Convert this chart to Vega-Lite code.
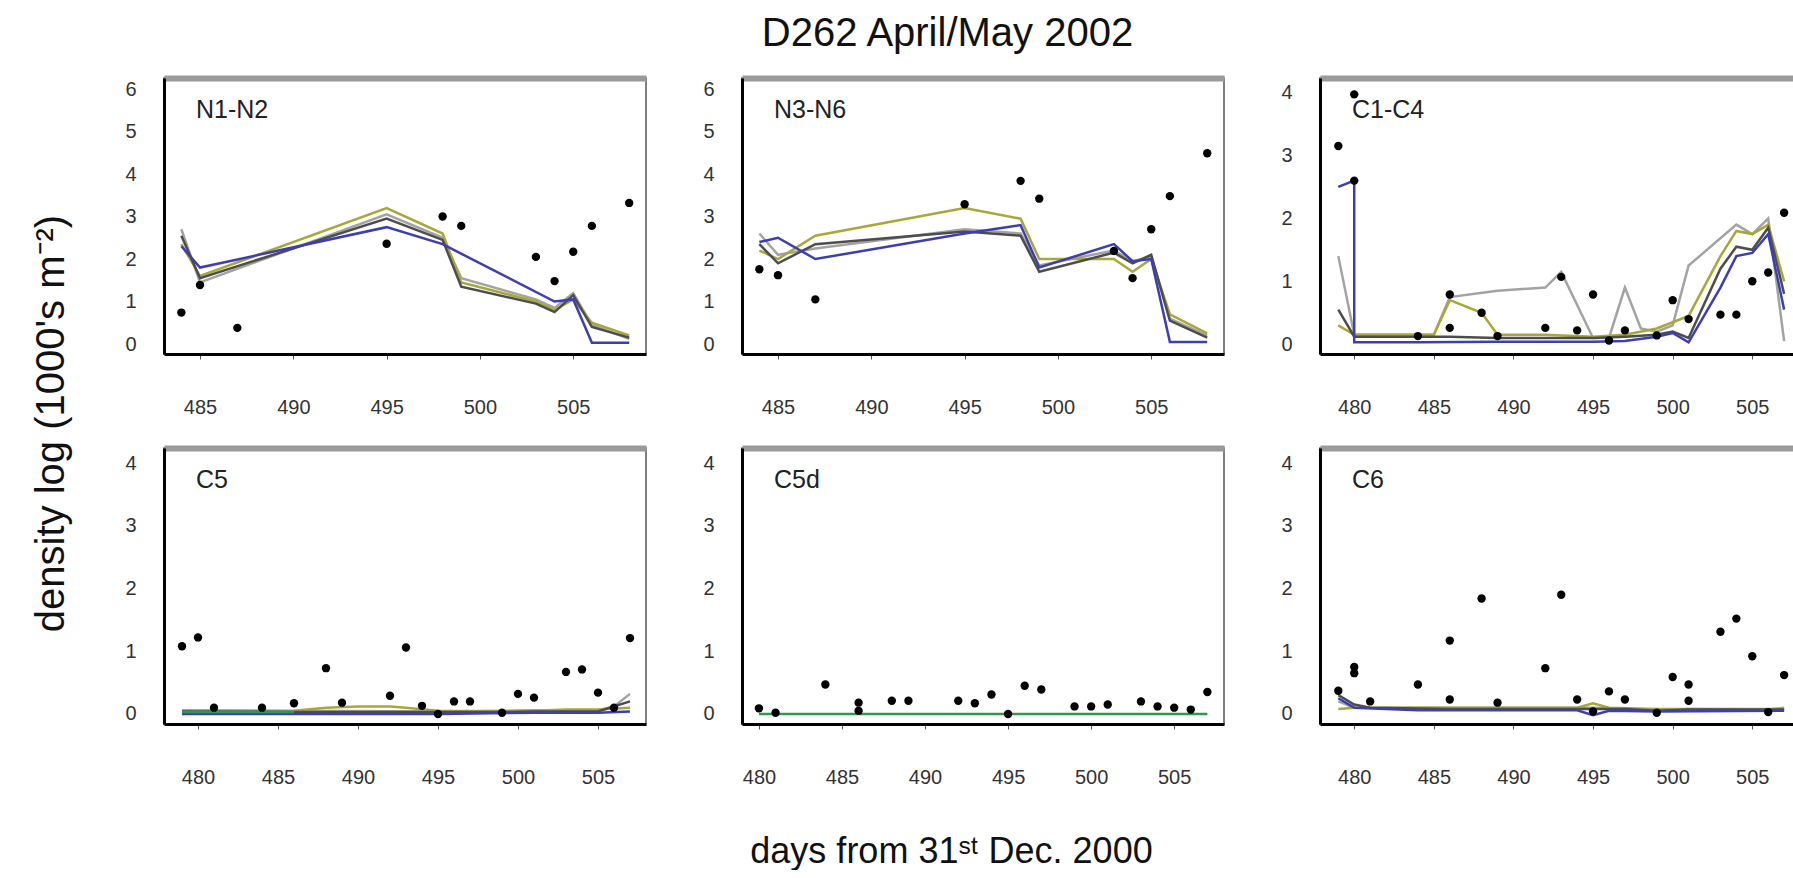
{
"$schema": "https://vega.github.io/schema/vega-lite/v6.json",
"background": "white",
"padding": {"left": 30, "top": 14, "right": 0, "bottom": 0},
"title": {"text": "D262 April/May 2002", "fontSize": 40, "fontWeight": "normal", "anchor": "middle", "baseline": "bottom", "offset": -17, "dx": 35, "color": "#111"},
"bounds": "flush",
"spacing": {"row": 94, "column": 96},
"columns": 3,
"concat": [
{
 "width": 482, "height": 276,
 "title": {"text": "N1-N2", "anchor": "start", "frame": "group", "dx": 32, "offset": -65, "baseline": "alphabetic", "fontSize": 25, "fontWeight": "normal", "color": "#222"},
 "resolve": {"axis": {"x": "independent"}},
 "layer": [
  {"data": {"name": "model"}, "transform": [{"filter": "datum.panel === 'N1-N2'"}],
   "mark": {"type": "line", "strokeWidth": 2.5},
   "encoding": {
    "x": {"field": "day", "type": "quantitative", "scale": {"domain": [483.07, 508.9], "nice": false, "zero": false},
      "axis": {"orient": "bottom", "title": null, "grid": false, "domainColor": "#000", "domainWidth": 3, "tickSize": 5, "tickColor": "#555", "labelFontSize": 20, "labelColor": "#333", "labelPadding": 38, "format": "d", "values": [485, 490, 495, 500, 505]}},
    "y": {"field": "value", "type": "quantitative", "scale": {"domain": [-0.235, 6.26], "nice": false, "zero": false},
      "axis": {"orient": "left", "grid": false, "domainColor": "#000", "domainWidth": 3, "ticks": false, "labelFontSize": 20, "labelColor": "#333", "labelPadding": 28, "format": "d", "values": [0, 1, 2, 3, 4, 5, 6],
        "title": "density log (1000's m⁻²)", "titleFontSize": 40, "titleFontWeight": "normal", "titleColor": "#111", "titleAngle": 270, "titleX": -113, "titleY": 345, "titleAlign": "center", "titleBaseline": "middle"}},
    "color": {"field": "series", "type": "nominal", "legend": null, "scale": {"domain": ["a_gray", "b_olive", "c_dark", "d_blue", "e_green"], "range": ["#a3a3a3", "#a8a838", "#4d4d4d", "#3d3db5", "#2e9a50"]}}
   }},
  {"data": {"name": "obs"}, "transform": [{"filter": "datum.panel === 'N1-N2'"}],
   "mark": {"type": "point", "filled": true, "size": 70, "color": "#000", "opacity": 1},
   "encoding": {
    "x": {"field": "day", "type": "quantitative", "axis": {"orient": "top", "title": null, "grid": false, "domainColor": "#9a9a9a", "domainWidth": 6, "ticks": false, "labels": false}},
    "y": {"field": "value", "type": "quantitative"}
   }}
 ]
},
{
 "width": 482, "height": 276,
 "title": {"text": "N3-N6", "anchor": "start", "frame": "group", "dx": 32, "offset": -65, "baseline": "alphabetic", "fontSize": 25, "fontWeight": "normal", "color": "#222"},
 "resolve": {"axis": {"x": "independent"}},
 "layer": [
  {"data": {"name": "model"}, "transform": [{"filter": "datum.panel === 'N3-N6'"}],
   "mark": {"type": "line", "strokeWidth": 2.5},
   "encoding": {
    "x": {"field": "day", "type": "quantitative", "scale": {"domain": [483.07, 508.9], "nice": false, "zero": false},
      "axis": {"orient": "bottom", "title": null, "grid": false, "domainColor": "#000", "domainWidth": 3, "tickSize": 5, "tickColor": "#555", "labelFontSize": 20, "labelColor": "#333", "labelPadding": 38, "format": "d", "values": [485, 490, 495, 500, 505]}},
    "y": {"field": "value", "type": "quantitative", "scale": {"domain": [-0.235, 6.26], "nice": false, "zero": false},
      "axis": {"orient": "left", "grid": false, "domainColor": "#000", "domainWidth": 3, "ticks": false, "labelFontSize": 20, "labelColor": "#333", "labelPadding": 28, "format": "d", "values": [0, 1, 2, 3, 4, 5, 6], "title": null}},
    "color": {"field": "series", "type": "nominal", "legend": null, "scale": {"domain": ["a_gray", "b_olive", "c_dark", "d_blue", "e_green"], "range": ["#a3a3a3", "#a8a838", "#4d4d4d", "#3d3db5", "#2e9a50"]}}
   }},
  {"data": {"name": "obs"}, "transform": [{"filter": "datum.panel === 'N3-N6'"}],
   "mark": {"type": "point", "filled": true, "size": 70, "color": "#000", "opacity": 1},
   "encoding": {
    "x": {"field": "day", "type": "quantitative", "axis": {"orient": "top", "title": null, "grid": false, "domainColor": "#9a9a9a", "domainWidth": 6, "ticks": false, "labels": false}},
    "y": {"field": "value", "type": "quantitative"}
   }}
 ]
},
{
 "width": 474, "height": 276,
 "title": {"text": "C1-C4", "anchor": "start", "frame": "group", "dx": 32, "offset": -65, "baseline": "alphabetic", "fontSize": 25, "fontWeight": "normal", "color": "#222"},
 "resolve": {"axis": {"x": "independent"}},
 "layer": [
  {"data": {"name": "model"}, "transform": [{"filter": "datum.panel === 'C1-C4'"}],
   "mark": {"type": "line", "strokeWidth": 2.5},
   "encoding": {
    "x": {"field": "day", "type": "quantitative", "sort": null, "scale": {"domain": [477.85, 507.62], "nice": false, "zero": false},
      "axis": {"orient": "bottom", "title": null, "grid": false, "domainColor": "#000", "domainWidth": 3, "tickSize": 5, "tickColor": "#555", "labelFontSize": 20, "labelColor": "#333", "labelPadding": 38, "format": "d", "values": [480, 485, 490, 495, 500, 505]}},
    "y": {"field": "value", "type": "quantitative", "scale": {"domain": [-0.155, 4.23], "nice": false, "zero": false},
      "axis": {"orient": "left", "grid": false, "domainColor": "#000", "domainWidth": 3, "ticks": false, "labelFontSize": 20, "labelColor": "#333", "labelPadding": 28, "format": "d", "values": [0, 1, 2, 3, 4], "title": null}},
    "color": {"field": "series", "type": "nominal", "legend": null, "scale": {"domain": ["a_gray", "b_olive", "c_dark", "d_blue", "e_green"], "range": ["#a3a3a3", "#a8a838", "#4d4d4d", "#3d3db5", "#2e9a50"]}}
   }},
  {"data": {"name": "obs"}, "transform": [{"filter": "datum.panel === 'C1-C4'"}],
   "mark": {"type": "point", "filled": true, "size": 70, "color": "#000", "opacity": 1},
   "encoding": {
    "x": {"field": "day", "type": "quantitative", "axis": {"orient": "top", "title": null, "grid": false, "domainColor": "#9a9a9a", "domainWidth": 6, "ticks": false, "labels": false}},
    "y": {"field": "value", "type": "quantitative"}
   }}
 ]
},
{
 "width": 482, "height": 276,
 "title": {"text": "C5", "anchor": "start", "frame": "group", "dx": 32, "offset": -65, "baseline": "alphabetic", "fontSize": 25, "fontWeight": "normal", "color": "#222"},
 "resolve": {"axis": {"x": "independent"}},
 "layer": [
  {"data": {"name": "model"}, "transform": [{"filter": "datum.panel === 'C5'"}],
   "mark": {"type": "line", "strokeWidth": 2.5},
   "encoding": {
    "x": {"field": "day", "type": "quantitative", "scale": {"domain": [477.875, 508.0], "nice": false, "zero": false},
      "axis": {"orient": "bottom", "title": null, "grid": false, "domainColor": "#000", "domainWidth": 3, "tickSize": 5, "tickColor": "#555", "labelFontSize": 20, "labelColor": "#333", "labelPadding": 38, "format": "d", "values": [480, 485, 490, 495, 500, 505]}},
    "y": {"field": "value", "type": "quantitative", "scale": {"domain": [-0.16, 4.24], "nice": false, "zero": false},
      "axis": {"orient": "left", "grid": false, "domainColor": "#000", "domainWidth": 3, "ticks": false, "labelFontSize": 20, "labelColor": "#333", "labelPadding": 28, "format": "d", "values": [0, 1, 2, 3, 4], "title": null}},
    "color": {"field": "series", "type": "nominal", "legend": null, "scale": {"domain": ["a_gray", "b_olive", "c_dark", "d_blue", "e_green"], "range": ["#a3a3a3", "#a8a838", "#4d4d4d", "#3d3db5", "#2e9a50"]}}
   }},
  {"data": {"name": "obs"}, "transform": [{"filter": "datum.panel === 'C5'"}],
   "mark": {"type": "point", "filled": true, "size": 70, "color": "#000", "opacity": 1},
   "encoding": {
    "x": {"field": "day", "type": "quantitative", "axis": {"orient": "top", "title": null, "grid": false, "domainColor": "#9a9a9a", "domainWidth": 6, "ticks": false, "labels": false}},
    "y": {"field": "value", "type": "quantitative"}
   }}
 ]
},
{
 "width": 482, "height": 276,
 "title": {"text": "C5d", "anchor": "start", "frame": "group", "dx": 32, "offset": -65, "baseline": "alphabetic", "fontSize": 25, "fontWeight": "normal", "color": "#222"},
 "resolve": {"axis": {"x": "independent"}},
 "layer": [
  {"data": {"name": "model"}, "transform": [{"filter": "datum.panel === 'C5d'"}],
   "mark": {"type": "line", "strokeWidth": 2.5},
   "encoding": {
    "x": {"field": "day", "type": "quantitative", "scale": {"domain": [478.98, 508.0], "nice": false, "zero": false},
      "axis": {"orient": "bottom", "grid": false, "domainColor": "#000", "domainWidth": 3, "tickSize": 5, "tickColor": "#555", "labelFontSize": 20, "labelColor": "#333", "labelPadding": 38, "format": "d", "values": [480, 485, 490, 495, 500, 505],
        "title": "days from 31ˢᵗ Dec. 2000", "titleFontSize": 36, "titleFontWeight": "normal", "titleColor": "#111", "titleX": 209, "titleY": 127, "titleAlign": "center", "titleBaseline": "middle"}},
    "y": {"field": "value", "type": "quantitative", "scale": {"domain": [-0.16, 4.24], "nice": false, "zero": false},
      "axis": {"orient": "left", "grid": false, "domainColor": "#000", "domainWidth": 3, "ticks": false, "labelFontSize": 20, "labelColor": "#333", "labelPadding": 28, "format": "d", "values": [0, 1, 2, 3, 4], "title": null}},
    "color": {"field": "series", "type": "nominal", "legend": null, "scale": {"domain": ["a_gray", "b_olive", "c_dark", "d_blue", "e_green"], "range": ["#a3a3a3", "#a8a838", "#4d4d4d", "#3d3db5", "#2e9a50"]}}
   }},
  {"data": {"name": "obs"}, "transform": [{"filter": "datum.panel === 'C5d'"}],
   "mark": {"type": "point", "filled": true, "size": 70, "color": "#000", "opacity": 1},
   "encoding": {
    "x": {"field": "day", "type": "quantitative", "axis": {"orient": "top", "title": null, "grid": false, "domainColor": "#9a9a9a", "domainWidth": 6, "ticks": false, "labels": false}},
    "y": {"field": "value", "type": "quantitative"}
   }}
 ]
},
{
 "width": 474, "height": 276,
 "title": {"text": "C6", "anchor": "start", "frame": "group", "dx": 32, "offset": -65, "baseline": "alphabetic", "fontSize": 25, "fontWeight": "normal", "color": "#222"},
 "resolve": {"axis": {"x": "independent"}},
 "layer": [
  {"data": {"name": "model"}, "transform": [{"filter": "datum.panel === 'C6'"}],
   "mark": {"type": "line", "strokeWidth": 2.5},
   "encoding": {
    "x": {"field": "day", "type": "quantitative", "scale": {"domain": [477.85, 507.62], "nice": false, "zero": false},
      "axis": {"orient": "bottom", "title": null, "grid": false, "domainColor": "#000", "domainWidth": 3, "tickSize": 5, "tickColor": "#555", "labelFontSize": 20, "labelColor": "#333", "labelPadding": 38, "format": "d", "values": [480, 485, 490, 495, 500, 505]}},
    "y": {"field": "value", "type": "quantitative", "scale": {"domain": [-0.16, 4.24], "nice": false, "zero": false},
      "axis": {"orient": "left", "grid": false, "domainColor": "#000", "domainWidth": 3, "ticks": false, "labelFontSize": 20, "labelColor": "#333", "labelPadding": 28, "format": "d", "values": [0, 1, 2, 3, 4], "title": null}},
    "color": {"field": "series", "type": "nominal", "legend": null, "scale": {"domain": ["a_gray", "b_olive", "c_dark", "d_blue", "e_green"], "range": ["#a3a3a3", "#a8a838", "#4d4d4d", "#3d3db5", "#2e9a50"]}}
   }},
  {"data": {"name": "obs"}, "transform": [{"filter": "datum.panel === 'C6'"}],
   "mark": {"type": "point", "filled": true, "size": 70, "color": "#000", "opacity": 1},
   "encoding": {
    "x": {"field": "day", "type": "quantitative", "axis": {"orient": "top", "title": null, "grid": false, "domainColor": "#9a9a9a", "domainWidth": 6, "ticks": false, "labels": false}},
    "y": {"field": "value", "type": "quantitative"}
   }}
 ]
}
],
"config": {
 "font": "Liberation Sans",
 "view": {"stroke": "#555", "strokeWidth": 1.5},
 "axis": {"labelFont": "Liberation Sans", "titleFont": "Liberation Sans"}
},
"datasets": {
"obs": [
{"panel":"N1-N2","day":484,"value":0.74},{"panel":"N1-N2","day":485,"value":1.39},{"panel":"N1-N2","day":487,"value":0.38},{"panel":"N1-N2","day":495,"value":2.36},{"panel":"N1-N2","day":498,"value":3.0},{"panel":"N1-N2","day":499,"value":2.78},{"panel":"N1-N2","day":503,"value":2.05},{"panel":"N1-N2","day":504,"value":1.48},{"panel":"N1-N2","day":505,"value":2.17},{"panel":"N1-N2","day":506,"value":2.78},{"panel":"N1-N2","day":508,"value":3.32},
{"panel":"N3-N6","day":484,"value":1.76},{"panel":"N3-N6","day":485,"value":1.62},{"panel":"N3-N6","day":487,"value":1.05},{"panel":"N3-N6","day":495,"value":3.29},{"panel":"N3-N6","day":498,"value":3.84},{"panel":"N3-N6","day":499,"value":3.42},{"panel":"N3-N6","day":503,"value":2.19},{"panel":"N3-N6","day":504,"value":1.55},{"panel":"N3-N6","day":505,"value":2.7},{"panel":"N3-N6","day":506,"value":3.48},{"panel":"N3-N6","day":508,"value":4.49},
{"panel":"C1-C4","day":479,"value":3.15},{"panel":"C1-C4","day":480,"value":3.97},{"panel":"C1-C4","day":480,"value":2.6},{"panel":"C1-C4","day":484,"value":0.13},{"panel":"C1-C4","day":486,"value":0.79},{"panel":"C1-C4","day":486,"value":0.26},{"panel":"C1-C4","day":488,"value":0.5},{"panel":"C1-C4","day":489,"value":0.13},{"panel":"C1-C4","day":492,"value":0.26},{"panel":"C1-C4","day":493,"value":1.07},{"panel":"C1-C4","day":494,"value":0.22},{"panel":"C1-C4","day":495,"value":0.79},{"panel":"C1-C4","day":496,"value":0.06},{"panel":"C1-C4","day":497,"value":0.22},{"panel":"C1-C4","day":499,"value":0.14},{"panel":"C1-C4","day":500,"value":0.7},{"panel":"C1-C4","day":501,"value":0.4},{"panel":"C1-C4","day":503,"value":0.47},{"panel":"C1-C4","day":504,"value":0.47},{"panel":"C1-C4","day":505,"value":1.0},{"panel":"C1-C4","day":506,"value":1.14},{"panel":"C1-C4","day":507,"value":2.09},
{"panel":"C5","day":479,"value":1.08},{"panel":"C5","day":480,"value":1.22},{"panel":"C5","day":481,"value":0.1},{"panel":"C5","day":484,"value":0.1},{"panel":"C5","day":486,"value":0.17},{"panel":"C5","day":488,"value":0.73},{"panel":"C5","day":489,"value":0.18},{"panel":"C5","day":492,"value":0.29},{"panel":"C5","day":493,"value":1.06},{"panel":"C5","day":494,"value":0.13},{"panel":"C5","day":495,"value":0.0},{"panel":"C5","day":496,"value":0.2},{"panel":"C5","day":497,"value":0.2},{"panel":"C5","day":499,"value":0.02},{"panel":"C5","day":500,"value":0.32},{"panel":"C5","day":501,"value":0.26},{"panel":"C5","day":503,"value":0.67},{"panel":"C5","day":504,"value":0.71},{"panel":"C5","day":505,"value":0.34},{"panel":"C5","day":506,"value":0.1},{"panel":"C5","day":507,"value":1.21},
{"panel":"C5d","day":480,"value":0.09},{"panel":"C5d","day":481,"value":0.02},{"panel":"C5d","day":484,"value":0.47},{"panel":"C5d","day":486,"value":0.18},{"panel":"C5d","day":486,"value":0.05},{"panel":"C5d","day":488,"value":0.21},{"panel":"C5d","day":489,"value":0.21},{"panel":"C5d","day":492,"value":0.21},{"panel":"C5d","day":493,"value":0.17},{"panel":"C5d","day":494,"value":0.31},{"panel":"C5d","day":495,"value":0.0},{"panel":"C5d","day":496,"value":0.45},{"panel":"C5d","day":497,"value":0.39},{"panel":"C5d","day":499,"value":0.12},{"panel":"C5d","day":500,"value":0.12},{"panel":"C5d","day":501,"value":0.15},{"panel":"C5d","day":503,"value":0.2},{"panel":"C5d","day":504,"value":0.12},{"panel":"C5d","day":505,"value":0.1},{"panel":"C5d","day":506,"value":0.07},{"panel":"C5d","day":507,"value":0.35},
{"panel":"C6","day":479,"value":0.37},{"panel":"C6","day":480,"value":0.65},{"panel":"C6","day":480,"value":0.75},{"panel":"C6","day":481,"value":0.2},{"panel":"C6","day":484,"value":0.47},{"panel":"C6","day":486,"value":1.17},{"panel":"C6","day":486,"value":0.23},{"panel":"C6","day":488,"value":1.84},{"panel":"C6","day":489,"value":0.18},{"panel":"C6","day":492,"value":0.73},{"panel":"C6","day":493,"value":1.9},{"panel":"C6","day":494,"value":0.23},{"panel":"C6","day":495,"value":0.04},{"panel":"C6","day":496,"value":0.36},{"panel":"C6","day":497,"value":0.23},{"panel":"C6","day":499,"value":0.02},{"panel":"C6","day":500,"value":0.59},{"panel":"C6","day":501,"value":0.47},{"panel":"C6","day":501,"value":0.21},{"panel":"C6","day":503,"value":1.31},{"panel":"C6","day":504,"value":1.52},{"panel":"C6","day":505,"value":0.92},{"panel":"C6","day":506,"value":0.03},{"panel":"C6","day":507,"value":0.62}
],
"model": [
{"panel":"N1-N2","series":"a_gray","day":484,"value":2.7},{"panel":"N1-N2","series":"a_gray","day":485,"value":1.45},{"panel":"N1-N2","series":"a_gray","day":495,"value":3.05},{"panel":"N1-N2","series":"a_gray","day":498,"value":2.5},{"panel":"N1-N2","series":"a_gray","day":499,"value":1.55},{"panel":"N1-N2","series":"a_gray","day":503,"value":1.05},{"panel":"N1-N2","series":"a_gray","day":504,"value":0.85},{"panel":"N1-N2","series":"a_gray","day":505,"value":1.2},{"panel":"N1-N2","series":"a_gray","day":506,"value":0.45},{"panel":"N1-N2","series":"a_gray","day":508,"value":0.12},
{"panel":"N1-N2","series":"b_olive","day":484,"value":2.35},{"panel":"N1-N2","series":"b_olive","day":485,"value":1.6},{"panel":"N1-N2","series":"b_olive","day":495,"value":3.2},{"panel":"N1-N2","series":"b_olive","day":498,"value":2.6},{"panel":"N1-N2","series":"b_olive","day":499,"value":1.45},{"panel":"N1-N2","series":"b_olive","day":503,"value":1.0},{"panel":"N1-N2","series":"b_olive","day":504,"value":0.8},{"panel":"N1-N2","series":"b_olive","day":505,"value":1.05},{"panel":"N1-N2","series":"b_olive","day":506,"value":0.5},{"panel":"N1-N2","series":"b_olive","day":508,"value":0.2},
{"panel":"N1-N2","series":"c_dark","day":484,"value":2.55},{"panel":"N1-N2","series":"c_dark","day":485,"value":1.55},{"panel":"N1-N2","series":"c_dark","day":495,"value":2.95},{"panel":"N1-N2","series":"c_dark","day":498,"value":2.45},{"panel":"N1-N2","series":"c_dark","day":499,"value":1.35},{"panel":"N1-N2","series":"c_dark","day":503,"value":0.95},{"panel":"N1-N2","series":"c_dark","day":504,"value":0.75},{"panel":"N1-N2","series":"c_dark","day":505,"value":1.15},{"panel":"N1-N2","series":"c_dark","day":506,"value":0.4},{"panel":"N1-N2","series":"c_dark","day":508,"value":0.15},
{"panel":"N1-N2","series":"d_blue","day":484,"value":2.3},{"panel":"N1-N2","series":"d_blue","day":485,"value":1.8},{"panel":"N1-N2","series":"d_blue","day":495,"value":2.75},{"panel":"N1-N2","series":"d_blue","day":498,"value":2.35},{"panel":"N1-N2","series":"d_blue","day":504,"value":1.0},{"panel":"N1-N2","series":"d_blue","day":505,"value":1.05},{"panel":"N1-N2","series":"d_blue","day":506,"value":0.03},{"panel":"N1-N2","series":"d_blue","day":508,"value":0.03},
{"panel":"N3-N6","series":"a_gray","day":484,"value":2.6},{"panel":"N3-N6","series":"a_gray","day":485,"value":2.1},{"panel":"N3-N6","series":"a_gray","day":487,"value":2.25},{"panel":"N3-N6","series":"a_gray","day":495,"value":2.7},{"panel":"N3-N6","series":"a_gray","day":498,"value":2.6},{"panel":"N3-N6","series":"a_gray","day":499,"value":1.85},{"panel":"N3-N6","series":"a_gray","day":503,"value":2.2},{"panel":"N3-N6","series":"a_gray","day":504,"value":1.95},{"panel":"N3-N6","series":"a_gray","day":505,"value":2.05},{"panel":"N3-N6","series":"a_gray","day":506,"value":0.6},{"panel":"N3-N6","series":"a_gray","day":508,"value":0.2},
{"panel":"N3-N6","series":"b_olive","day":484,"value":2.2},{"panel":"N3-N6","series":"b_olive","day":485,"value":2.0},{"panel":"N3-N6","series":"b_olive","day":487,"value":2.55},{"panel":"N3-N6","series":"b_olive","day":495,"value":3.2},{"panel":"N3-N6","series":"b_olive","day":498,"value":2.95},{"panel":"N3-N6","series":"b_olive","day":499,"value":2.0},{"panel":"N3-N6","series":"b_olive","day":503,"value":2.0},{"panel":"N3-N6","series":"b_olive","day":504,"value":1.7},{"panel":"N3-N6","series":"b_olive","day":505,"value":2.0},{"panel":"N3-N6","series":"b_olive","day":506,"value":0.7},{"panel":"N3-N6","series":"b_olive","day":508,"value":0.25},
{"panel":"N3-N6","series":"c_dark","day":484,"value":2.35},{"panel":"N3-N6","series":"c_dark","day":485,"value":1.9},{"panel":"N3-N6","series":"c_dark","day":487,"value":2.35},{"panel":"N3-N6","series":"c_dark","day":495,"value":2.65},{"panel":"N3-N6","series":"c_dark","day":498,"value":2.55},{"panel":"N3-N6","series":"c_dark","day":499,"value":1.7},{"panel":"N3-N6","series":"c_dark","day":503,"value":2.15},{"panel":"N3-N6","series":"c_dark","day":504,"value":1.9},{"panel":"N3-N6","series":"c_dark","day":505,"value":2.1},{"panel":"N3-N6","series":"c_dark","day":506,"value":0.55},{"panel":"N3-N6","series":"c_dark","day":508,"value":0.15},
{"panel":"N3-N6","series":"d_blue","day":484,"value":2.4},{"panel":"N3-N6","series":"d_blue","day":485,"value":2.5},{"panel":"N3-N6","series":"d_blue","day":487,"value":2.0},{"panel":"N3-N6","series":"d_blue","day":495,"value":2.6},{"panel":"N3-N6","series":"d_blue","day":498,"value":2.8},{"panel":"N3-N6","series":"d_blue","day":499,"value":1.8},{"panel":"N3-N6","series":"d_blue","day":503,"value":2.35},{"panel":"N3-N6","series":"d_blue","day":504,"value":1.95},{"panel":"N3-N6","series":"d_blue","day":505,"value":2.0},{"panel":"N3-N6","series":"d_blue","day":506,"value":0.05},{"panel":"N3-N6","series":"d_blue","day":508,"value":0.05},
{"panel":"C1-C4","series":"a_gray","day":479,"value":1.4},{"panel":"C1-C4","series":"a_gray","day":480,"value":0.15},{"panel":"C1-C4","series":"a_gray","day":484,"value":0.15},{"panel":"C1-C4","series":"a_gray","day":485,"value":0.15},{"panel":"C1-C4","series":"a_gray","day":486,"value":0.75},{"panel":"C1-C4","series":"a_gray","day":489,"value":0.85},{"panel":"C1-C4","series":"a_gray","day":492,"value":0.9},{"panel":"C1-C4","series":"a_gray","day":493,"value":1.15},{"panel":"C1-C4","series":"a_gray","day":495,"value":0.1},{"panel":"C1-C4","series":"a_gray","day":496,"value":0.1},{"panel":"C1-C4","series":"a_gray","day":497,"value":0.9},{"panel":"C1-C4","series":"a_gray","day":498,"value":0.25},{"panel":"C1-C4","series":"a_gray","day":499,"value":0.2},{"panel":"C1-C4","series":"a_gray","day":500,"value":0.3},{"panel":"C1-C4","series":"a_gray","day":501,"value":1.25},{"panel":"C1-C4","series":"a_gray","day":504,"value":1.9},{"panel":"C1-C4","series":"a_gray","day":505,"value":1.75},{"panel":"C1-C4","series":"a_gray","day":506,"value":2.0},{"panel":"C1-C4","series":"a_gray","day":507,"value":0.05},
{"panel":"C1-C4","series":"b_olive","day":479,"value":0.3},{"panel":"C1-C4","series":"b_olive","day":480,"value":0.15},{"panel":"C1-C4","series":"b_olive","day":484,"value":0.15},{"panel":"C1-C4","series":"b_olive","day":485,"value":0.15},{"panel":"C1-C4","series":"b_olive","day":486,"value":0.7},{"panel":"C1-C4","series":"b_olive","day":488,"value":0.5},{"panel":"C1-C4","series":"b_olive","day":489,"value":0.15},{"panel":"C1-C4","series":"b_olive","day":492,"value":0.15},{"panel":"C1-C4","series":"b_olive","day":495,"value":0.12},{"panel":"C1-C4","series":"b_olive","day":497,"value":0.15},{"panel":"C1-C4","series":"b_olive","day":499,"value":0.25},{"panel":"C1-C4","series":"b_olive","day":500,"value":0.35},{"panel":"C1-C4","series":"b_olive","day":501,"value":0.45},{"panel":"C1-C4","series":"b_olive","day":503,"value":1.4},{"panel":"C1-C4","series":"b_olive","day":504,"value":1.8},{"panel":"C1-C4","series":"b_olive","day":505,"value":1.75},{"panel":"C1-C4","series":"b_olive","day":506,"value":1.9},{"panel":"C1-C4","series":"b_olive","day":507,"value":1.0},
{"panel":"C1-C4","series":"c_dark","day":479,"value":0.55},{"panel":"C1-C4","series":"c_dark","day":480,"value":0.12},{"panel":"C1-C4","series":"c_dark","day":484,"value":0.12},{"panel":"C1-C4","series":"c_dark","day":486,"value":0.12},{"panel":"C1-C4","series":"c_dark","day":489,"value":0.1},{"panel":"C1-C4","series":"c_dark","day":492,"value":0.1},{"panel":"C1-C4","series":"c_dark","day":495,"value":0.1},{"panel":"C1-C4","series":"c_dark","day":497,"value":0.12},{"panel":"C1-C4","series":"c_dark","day":499,"value":0.15},{"panel":"C1-C4","series":"c_dark","day":500,"value":0.2},{"panel":"C1-C4","series":"c_dark","day":501,"value":0.1},{"panel":"C1-C4","series":"c_dark","day":503,"value":1.2},{"panel":"C1-C4","series":"c_dark","day":504,"value":1.55},{"panel":"C1-C4","series":"c_dark","day":505,"value":1.5},{"panel":"C1-C4","series":"c_dark","day":506,"value":1.85},{"panel":"C1-C4","series":"c_dark","day":507,"value":0.8},
{"panel":"C1-C4","series":"d_blue","day":479,"value":2.5},{"panel":"C1-C4","series":"d_blue","day":480,"value":2.6},{"panel":"C1-C4","series":"d_blue","day":480,"value":0.03},{"panel":"C1-C4","series":"d_blue","day":484,"value":0.03},{"panel":"C1-C4","series":"d_blue","day":489,"value":0.04},{"panel":"C1-C4","series":"d_blue","day":495,"value":0.04},{"panel":"C1-C4","series":"d_blue","day":497,"value":0.05},{"panel":"C1-C4","series":"d_blue","day":499,"value":0.12},{"panel":"C1-C4","series":"d_blue","day":500,"value":0.18},{"panel":"C1-C4","series":"d_blue","day":501,"value":0.03},{"panel":"C1-C4","series":"d_blue","day":503,"value":0.9},{"panel":"C1-C4","series":"d_blue","day":504,"value":1.4},{"panel":"C1-C4","series":"d_blue","day":505,"value":1.45},{"panel":"C1-C4","series":"d_blue","day":506,"value":1.75},{"panel":"C1-C4","series":"d_blue","day":507,"value":0.55},
{"panel":"C5","series":"a_gray","day":479,"value":0.06},{"panel":"C5","series":"a_gray","day":486,"value":0.05},{"panel":"C5","series":"a_gray","day":495,"value":0.04},{"panel":"C5","series":"a_gray","day":499,"value":0.05},{"panel":"C5","series":"a_gray","day":501,"value":0.06},{"panel":"C5","series":"a_gray","day":505,"value":0.06},{"panel":"C5","series":"a_gray","day":506,"value":0.12},{"panel":"C5","series":"a_gray","day":507,"value":0.32},
{"panel":"C5","series":"b_olive","day":486,"value":0.05},{"panel":"C5","series":"b_olive","day":488,"value":0.1},{"panel":"C5","series":"b_olive","day":490,"value":0.12},{"panel":"C5","series":"b_olive","day":492,"value":0.12},{"panel":"C5","series":"b_olive","day":493,"value":0.1},{"panel":"C5","series":"b_olive","day":495,"value":0.05},{"panel":"C5","series":"b_olive","day":499,"value":0.04},{"panel":"C5","series":"b_olive","day":501,"value":0.05},{"panel":"C5","series":"b_olive","day":503,"value":0.07},{"panel":"C5","series":"b_olive","day":505,"value":0.07},{"panel":"C5","series":"b_olive","day":507,"value":0.1},
{"panel":"C5","series":"c_dark","day":479,"value":0.04},{"panel":"C5","series":"c_dark","day":486,"value":0.03},{"panel":"C5","series":"c_dark","day":495,"value":0.03},{"panel":"C5","series":"c_dark","day":499,"value":0.03},{"panel":"C5","series":"c_dark","day":501,"value":0.04},{"panel":"C5","series":"c_dark","day":505,"value":0.04},{"panel":"C5","series":"c_dark","day":507,"value":0.2},
{"panel":"C5","series":"d_blue","day":479,"value":0.0},{"panel":"C5","series":"d_blue","day":486,"value":0.0},{"panel":"C5","series":"d_blue","day":495,"value":0.0},{"panel":"C5","series":"d_blue","day":501,"value":0.02},{"panel":"C5","series":"d_blue","day":505,"value":0.02},{"panel":"C5","series":"d_blue","day":507,"value":0.04},
{"panel":"C5","series":"e_green","day":479,"value":0.03},{"panel":"C5","series":"e_green","day":481,"value":0.03},{"panel":"C5","series":"e_green","day":484,"value":0.03},{"panel":"C5","series":"e_green","day":486,"value":0.03},
{"panel":"C5d","series":"e_green","day":480,"value":0.0},{"panel":"C5d","series":"e_green","day":486,"value":0.0},{"panel":"C5d","series":"e_green","day":495,"value":0.0},{"panel":"C5d","series":"e_green","day":501,"value":0.0},{"panel":"C5d","series":"e_green","day":507,"value":0.0},
{"panel":"C6","series":"a_gray","day":479,"value":0.2},{"panel":"C6","series":"a_gray","day":480,"value":0.1},{"panel":"C6","series":"a_gray","day":484,"value":0.1},{"panel":"C6","series":"a_gray","day":489,"value":0.1},{"panel":"C6","series":"a_gray","day":494,"value":0.1},{"panel":"C6","series":"a_gray","day":495,"value":0.1},{"panel":"C6","series":"a_gray","day":499,"value":0.06},{"panel":"C6","series":"a_gray","day":501,"value":0.08},{"panel":"C6","series":"a_gray","day":506,"value":0.07},{"panel":"C6","series":"a_gray","day":507,"value":0.1},
{"panel":"C6","series":"b_olive","day":479,"value":0.08},{"panel":"C6","series":"b_olive","day":480,"value":0.1},{"panel":"C6","series":"b_olive","day":489,"value":0.1},{"panel":"C6","series":"b_olive","day":494,"value":0.1},{"panel":"C6","series":"b_olive","day":495,"value":0.17},{"panel":"C6","series":"b_olive","day":496,"value":0.1},{"panel":"C6","series":"b_olive","day":499,"value":0.08},{"panel":"C6","series":"b_olive","day":507,"value":0.08},
{"panel":"C6","series":"c_dark","day":479,"value":0.3},{"panel":"C6","series":"c_dark","day":480,"value":0.15},{"panel":"C6","series":"c_dark","day":481,"value":0.1},{"panel":"C6","series":"c_dark","day":486,"value":0.08},{"panel":"C6","series":"c_dark","day":494,"value":0.08},{"panel":"C6","series":"c_dark","day":497,"value":0.08},{"panel":"C6","series":"c_dark","day":499,"value":0.05},{"panel":"C6","series":"c_dark","day":501,"value":0.07},{"panel":"C6","series":"c_dark","day":507,"value":0.07},
{"panel":"C6","series":"d_blue","day":479,"value":0.25},{"panel":"C6","series":"d_blue","day":480,"value":0.1},{"panel":"C6","series":"d_blue","day":484,"value":0.06},{"panel":"C6","series":"d_blue","day":494,"value":0.06},{"panel":"C6","series":"d_blue","day":495,"value":-0.02},{"panel":"C6","series":"d_blue","day":496,"value":0.05},{"panel":"C6","series":"d_blue","day":499,"value":0.04},{"panel":"C6","series":"d_blue","day":507,"value":0.05}
]
}
}
